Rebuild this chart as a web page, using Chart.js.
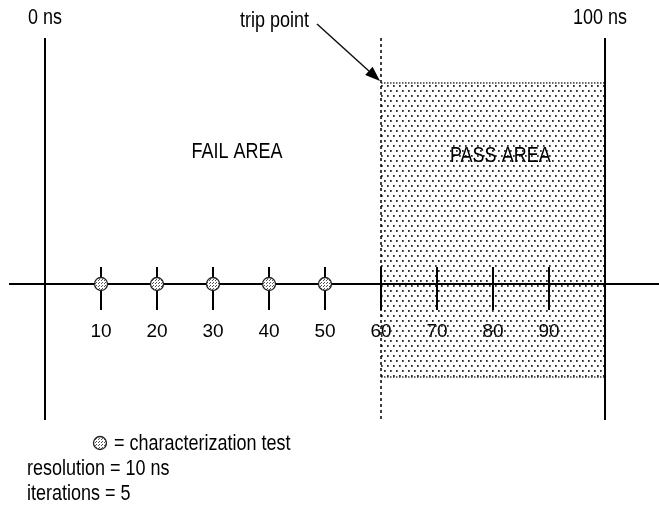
<!DOCTYPE html>
<html><head><meta charset="utf-8">
<style>html,body{margin:0;padding:0;background:#fff;overflow:hidden}#wrap{width:659px;height:516px;position:relative}canvas{display:block}</style>
<script src="https://cdn.jsdelivr.net/npm/chart.js@4"></script>
</head><body><div id="wrap"><canvas id="c" width="659" height="516"></canvas></div>
<script>
// ---- data ----
const tickValues = [10, 20, 30, 40, 50, 60, 70, 80, 90];
const testPoints = [10, 20, 30, 40, 50];
const rangeStart = 0;
const rangeEnd = 100;
const tripPoint = 60;
const unitLabel = 'ns';
const areaLabels = ['FAIL AREA', 'PASS AREA'];
const areaLabelX = [34.3, 81.3];
const legendLines = ['= characterization test', 'resolution = 10 ns', 'iterations = 5'];

// ---- layout (vertical extents in arbitrary units, axis at 0) ----
const LINE_TOP = 12.3, LINE_BOTTOM = -6.8;
const AREA_TOP = 10.05, AREA_BOTTOM = -4.65;
const TICK_UP = 0.85, TICK_DOWN = -1.3;
const FONT = "'Liberation Sans', Arial, sans-serif";

const canvas = document.getElementById('c');
const ctx0 = canvas.getContext('2d');
function dotCanvas(w, h, dots, sw, sh, color, bg) {
  const c = document.createElement('canvas'); c.width = w; c.height = h;
  const g = c.getContext('2d');
  if (bg) { g.fillStyle = bg; g.fillRect(0, 0, w, h); }
  g.fillStyle = color;
  dots.forEach(([x, y]) => g.fillRect(x, y, sw, sh));
  return c;
}
const areaPattern = ctx0.createPattern(dotCanvas(6, 10, [[0, 0], [3, 5]], 1.7, 1.9, '#2a2a2a', null), 'repeat');
const markerPattern = ctx0.createPattern(dotCanvas(3, 3, [[0, 0], [2, 1]], 1, 1, '#555', '#fff'), 'repeat');

function vline(x, y1, y2) { return [{x: x, y: y1}, {x: x, y: y2}]; }
const tickData = [];
tickValues.forEach(v => { tickData.push({x: v, y: TICK_UP}, {x: v, y: TICK_DOWN}, {x: v, y: null}); });

const base = {pointRadius: 0, fill: false, tension: 0, spanGaps: false};
const datasets = [
  Object.assign({}, base, {label: 'tests', data: testPoints.map(v => ({x: v, y: 0})), showLine: false,
    pointRadius: 6.5, pointBackgroundColor: markerPattern, pointBorderColor: '#222', pointBorderWidth: 1.3}),
  Object.assign({}, base, {label: 'ticks', data: tickData, borderColor: '#000', borderWidth: 2}),
  Object.assign({}, base, {label: 'start', data: vline(rangeStart, LINE_TOP, LINE_BOTTOM), borderColor: '#000', borderWidth: 2}),
  Object.assign({}, base, {label: 'end', data: vline(rangeEnd, LINE_TOP, LINE_BOTTOM), borderColor: '#000', borderWidth: 2}),
  Object.assign({}, base, {label: 'trip', data: vline(tripPoint, LINE_TOP, LINE_BOTTOM), borderColor: '#000', borderWidth: 1.5, borderDash: [3, 3]}),
  Object.assign({}, base, {label: 'areaBottom', data: [{x: tripPoint, y: AREA_BOTTOM}, {x: rangeEnd, y: AREA_BOTTOM}], borderColor: '#333', borderWidth: 1.5, borderDash: [1.5, 1.5]}),
  Object.assign({}, base, {label: 'pass', data: [{x: tripPoint, y: AREA_TOP}, {x: rangeEnd, y: AREA_TOP}],
    fill: {value: AREA_BOTTOM}, backgroundColor: areaPattern, borderColor: '#333', borderWidth: 1.5, borderDash: [1.5, 1.5]})
];

const textPlugin = {
  id: 'texts',
  afterDraw(chart) {
    const ctx = chart.ctx, xs = chart.scales.x, ys = chart.scales.y;
    function txt(s, x, y) { ctx.save(); ctx.translate(x, y); ctx.scale(1, 1.2); ctx.fillText(s, 0, 0); ctx.restore(); }
    ctx.save();
    ctx.fillStyle = '#000';
    ctx.font = '18px ' + FONT;
    ctx.textBaseline = 'middle';
    const top = ys.getPixelForValue(LINE_TOP);
    ctx.textAlign = 'center';
    txt(rangeStart + ' ' + unitLabel, xs.getPixelForValue(rangeStart), top - 20);
    txt(rangeEnd + ' ' + unitLabel, xs.getPixelForValue(rangeEnd) - 5, top - 20);
    // area labels
    txt(areaLabels[0], xs.getPixelForValue(areaLabelX[0]), ys.getPixelForValue(6.6));
    txt(areaLabels[1], xs.getPixelForValue(areaLabelX[1]), ys.getPixelForValue(6.4));
    // trip point label + arrow
    const tipX = xs.getPixelForValue(tripPoint) - 1, tipY = ys.getPixelForValue(AREA_TOP) - 2;
    ctx.textAlign = 'right';
    txt('trip point', tipX - 71, top - 17);
    const sx = tipX - 63, sy = top - 14;
    const ang = Math.atan2(tipY - sy, tipX - sx);
    const hl = 15, hw = 5.5;
    const bx = tipX - hl * Math.cos(ang), by = tipY - hl * Math.sin(ang);
    ctx.strokeStyle = '#111'; ctx.lineWidth = 1.5;
    ctx.beginPath(); ctx.moveTo(sx, sy); ctx.lineTo(bx, by); ctx.stroke();
    ctx.beginPath();
    ctx.moveTo(tipX, tipY);
    ctx.lineTo(bx + hw * Math.sin(ang), by - hw * Math.cos(ang));
    ctx.lineTo(bx - hw * Math.sin(ang), by + hw * Math.cos(ang));
    ctx.closePath(); ctx.fill();
    // legend
    ctx.beginPath(); ctx.arc(100, 443, 6.5, 0, Math.PI * 2);
    ctx.fillStyle = markerPattern; ctx.fill();
    ctx.strokeStyle = '#222'; ctx.lineWidth = 1.3; ctx.stroke();
    ctx.fillStyle = '#000';
    ctx.textAlign = 'left';
    txt(legendLines[0], 114, 444);
    txt(legendLines[1], 27, 469);
    txt(legendLines[2], 27, 494);
    ctx.restore();
  }
};

new Chart(canvas, {
  type: 'line',
  data: {datasets: datasets},
  options: {
    responsive: false, animation: false, devicePixelRatio: 1,
    layout: {autoPadding: false, padding: {left: 10, right: 0, top: 0, bottom: 0}},
    plugins: {legend: {display: false}, tooltip: {enabled: false}},
    scales: {
      x: {type: 'linear', min: -6.25, max: 109.64, position: {y: 0},
        afterBuildTicks: s => { s.ticks = tickValues.map(v => ({value: v})); },
        ticks: {color: '#000', font: {family: FONT, size: 19}, padding: 36, autoSkip: false, maxRotation: 0, callback: v => String(v)},
        grid: {drawOnChartArea: false, drawTicks: false},
        border: {display: true, color: '#000', width: 2}},
      y: {type: 'linear', min: -11.6, max: 14.2, display: false}
    }
  },
  plugins: [textPlugin]
});
</script></body></html>
